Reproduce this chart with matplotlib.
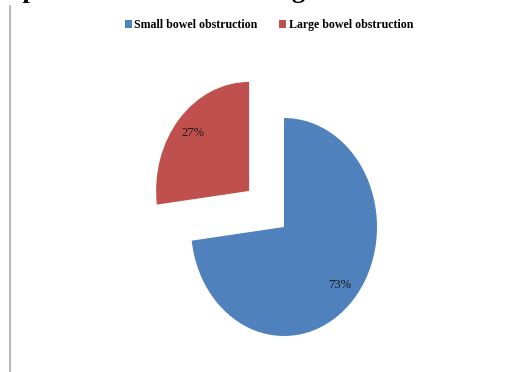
import matplotlib
matplotlib.use("Agg")
import matplotlib.pyplot as plt
from matplotlib.patches import Patch
from matplotlib.lines import Line2D

categories = ["Small bowel obstruction", "Large bowel obstruction"]
values = [73, 27]
colors = ["#4F81BD", "#C0504D"]
explode = [0.0, 0.5]

W, H = 510, 372
fig = plt.figure(figsize=(W / 100, H / 100), dpi=100)

serif = ["Liberation Serif", "DejaVu Serif"]

# pie axes: centre at (284, 227) px, radii 93 px horizontally and 109 px vertically
cx, cy = 284, H - 227
rx, ry = 93, 109
x0, x1 = -1.6, 1.6
y0, y1 = -1.3, 1.6
ax = fig.add_axes([(cx + x0 * rx) / W, (cy + y0 * ry) / H,
                   (x1 - x0) * rx / W, (y1 - y0) * ry / H])
wedges, texts, autotexts = ax.pie(
    values, colors=colors, explode=explode, startangle=90,
    counterclock=False, autopct="%d%%", pctdistance=0.8,
    textprops=dict(family=serif, fontsize=9, color="#1a1a1a"))
ax.set_aspect("auto")
ax.set_xlim(x0, x1)
ax.set_ylim(y0, y1)
ax.axis("off")
for w in wedges:
    w.set_clip_on(False)

# legend
handles = [Patch(facecolor=c, edgecolor="none") for c in colors]
fig.legend(handles, categories, loc="center", bbox_to_anchor=(269 / W, 1 - 25 / H),
           ncol=2, frameon=False, handlelength=0.6, handleheight=0.6,
           handletextpad=0.2, columnspacing=1.8,
           prop=dict(family=serif, weight="bold", size=8.6))

# chart frame edge on the left
fig.add_artist(Line2D([10 / W, 10 / W], [0, 1 - 6 / H], color="#aaaaaa", lw=1.2))

# heading above the chart (runs past the figure edges)
fig.text(-23 / W, 1 + 1.5 / H, "Graph 3: Pie Charts showing Level of Obstruction",
         family=serif, weight="bold", fontsize=19, va="baseline", ha="left")

fig.savefig("out.png", dpi=100, facecolor="white")
